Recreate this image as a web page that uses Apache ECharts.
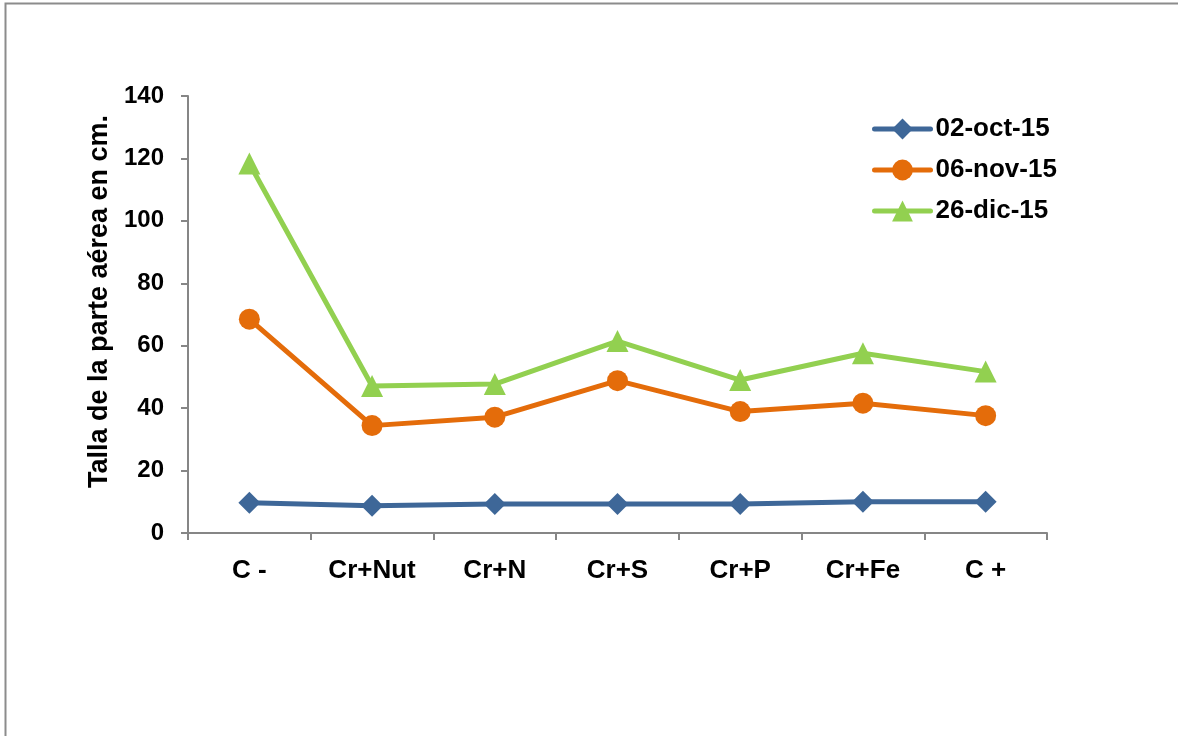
<!DOCTYPE html>
<html>
<head>
<meta charset="utf-8">
<script src="https://cdn.jsdelivr.net/npm/echarts@6/dist/echarts.min.js"></script>
<style>
html,body{margin:0;padding:0;background:#fff;}
#chart{width:1178px;height:736px;}
</style>
</head>
<body>
<div id="chart"></div>
<script>
const categories = ['C -', 'Cr+Nut', 'Cr+N', 'Cr+S', 'Cr+P', 'Cr+Fe', 'C +'];
const seriesNames = ['02-oct-15', '06-nov-15', '26-dic-15'];
const oct02 = [9.7, 8.7, 9.3, 9.3, 9.3, 10.0, 10.0];
const nov06 = [68.5, 34.4, 37.1, 48.8, 38.9, 41.6, 37.6];
const dic26 = [118.4, 47.1, 47.7, 61.5, 49.0, 57.6, 51.7];
const yTicks = [0, 20, 40, 60, 80, 100, 120, 140];
const yTitle = 'Talla de la parte aérea en cm.';

const colors = ['#3E6798', '#E46C0A', '#92D050'];
const symbols = ['diamond', 'circle', 'triangle'];
const sizes = [22, 21, 22];
const values = [oct02, nov06, dic26];
const font = 'Liberation Sans, Arial, sans-serif';

const chart = echarts.init(document.getElementById('chart'), null, {renderer: 'canvas'});
chart.setOption({
  animation: false,
  backgroundColor: '#ffffff',
  graphic: [{
    type: 'rect', left: 3, top: 1, silent: true,
    shape: {width: 1300, height: 800},
    style: {fill: 'none', stroke: '#8c8c8c', lineWidth: 2}
  }],
  grid: {left: 188, right: 131, top: 96, bottom: 203, containLabel: false},
  legend: {
    orient: 'vertical', left: 872, top: 116, padding: 0,
    itemWidth: 56, itemHeight: 26, itemGap: 15,
    lineStyle: {width: 5, cap: 'round'},
    textStyle: {fontFamily: font, fontWeight: 'bold', fontSize: 26, color: '#000', padding: [0,0,0,0]},
    data: seriesNames
  },
  xAxis: {
    type: 'category', data: categories, boundaryGap: true,
    axisLine: {lineStyle: {color: '#868686', width: 2}},
    axisTick: {show: true, length: 7, lineStyle: {color: '#868686', width: 2}},
    axisLabel: {fontFamily: font, fontWeight: 'bold', fontSize: 26, color: '#000', margin: 25, interval: 0},
    splitLine: {show: false}
  },
  yAxis: {
    type: 'value', min: yTicks[0], max: yTicks[yTicks.length-1], interval: 20,
    name: yTitle, nameLocation: 'middle', nameGap: 71,
    nameTextStyle: {fontFamily: font, fontWeight: 'bold', fontSize: 27, color: '#000', padding: [0,0,0,26]},
    axisLine: {show: true, lineStyle: {color: '#868686', width: 2}},
    axisTick: {show: true, length: 7, lineStyle: {color: '#868686', width: 2}},
    axisLabel: {fontFamily: font, fontWeight: 'bold', fontSize: 24, color: '#000', margin: 24},
    splitLine: {show: false}
  },
  series: values.map((v, i) => ({
    name: seriesNames[i], type: 'line', data: v,
    symbol: symbols[i], symbolSize: sizes[i], showAllSymbol: true,
    lineStyle: {color: colors[i], width: 5},
    itemStyle: {color: colors[i]},
    z: 2 + i
  }))
});
</script>
</body>
</html>
